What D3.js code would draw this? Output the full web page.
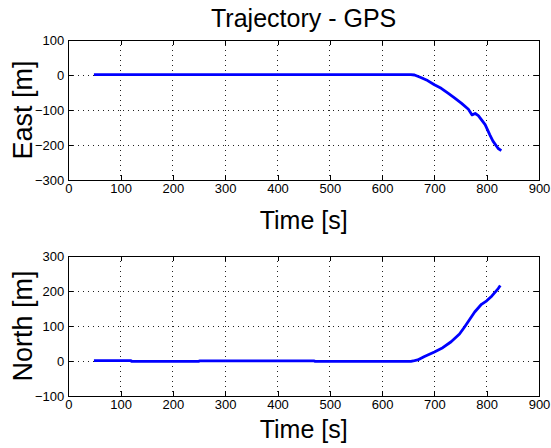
<!DOCTYPE html>
<html><head><meta charset="utf-8">
<script src="https://cdn.jsdelivr.net/npm/d3@7/dist/d3.min.js"></script>
<style>body{margin:0;background:#fff}svg{display:block}</style>
</head><body>
<svg id="c" width="551" height="448"></svg>
<script>
const title = "Trajectory - GPS";
const xTicks = [0,100,200,300,400,500,600,700,800,900];
const eastTicks = [-300,-200,-100,0,100];
const northTicks = [-100,0,100,200,300];

const eastT = [49,160,240,630,655,662,674,687,700,713,726,739,752,765,772,778,784,797,806,812,822,828];
const eastV = [1,1,1,1,1,0,-7,-16,-28,-38,-52,-66,-81,-98,-114,-110,-116,-142,-171,-189,-210,-216];

const northT = [49,120,121,250,251,470,471,655,662,668,681,700,716,732,748,758,768,777,790,800,810,822,826];
const northV = [1,1,-1,-1,0.5,0.5,-1,-1,1,3,13,26,38,55,77,98,120,140,162,172,186,207,216];

const svg = d3.select("#c");
const font = "Liberation Sans, Arial, Helvetica, sans-serif";
const L = 68.3, R = 539;

svg.append("text").attr("x", (L+R)/2).attr("y", 27).attr("text-anchor","middle")
  .attr("font-family", font).attr("font-size", 25).text(title);

function panel(top, bottom, T, V, yDom, yTicks, ylabel, xlabelY) {
  const x = d3.scaleLinear().domain([0,900]).range([L,R]);
  const y = d3.scaleLinear().domain(yDom).range([bottom, top]);
  const g = svg.append("g");
  g.append("g").selectAll("line").data(xTicks.slice(1,-1)).join("line")
    .attr("x1", d=>x(d)).attr("x2", d=>x(d)).attr("y1", top).attr("y2", bottom)
    .attr("stroke","#222").attr("stroke-width",1).attr("stroke-dasharray","1,4").attr("shape-rendering","crispEdges");
  g.append("g").selectAll("line").data(yTicks.slice(1,-1)).join("line")
    .attr("y1", d=>y(d)).attr("y2", d=>y(d)).attr("x1", L).attr("x2", R)
    .attr("stroke","#222").attr("stroke-width",1).attr("stroke-dasharray","1,4").attr("shape-rendering","crispEdges");
  const pts = T.map((t,i)=>[t, V[i]]);
  g.append("path").datum(pts)
    .attr("d", d3.line().x(d=>x(d[0])).y(d=>y(d[1])))
    .attr("fill","none").attr("stroke","#0000ff").attr("stroke-width",2.8).attr("stroke-linejoin","round");
  const ax = d3.axisBottom(x).tickValues(xTicks).tickSizeInner(-5).tickSizeOuter(0).tickPadding(4).tickFormat(d3.format("d"));
  const axt = d3.axisTop(x).tickValues(xTicks).tickSizeInner(-5).tickSizeOuter(0).tickFormat("");
  const ay = d3.axisLeft(y).tickValues(yTicks).tickSizeInner(-5).tickSizeOuter(0).tickPadding(4).tickFormat(d3.format("d"));
  const ayr = d3.axisRight(y).tickValues(yTicks).tickSizeInner(-5).tickSizeOuter(0).tickFormat("");
  const gx = g.append("g").attr("transform",`translate(0,${bottom})`).call(ax);
  const gxt = g.append("g").attr("transform",`translate(0,${top})`).call(axt);
  const gy = g.append("g").attr("transform",`translate(${L},0)`).call(ay);
  const gyr = g.append("g").attr("transform",`translate(${R},0)`).call(ayr);
  [gx,gxt,gy,gyr].forEach(a=>{
    a.selectAll("path").remove();
    a.selectAll("line").attr("stroke","#000").attr("shape-rendering","crispEdges");
    a.selectAll("text").attr("font-family", font).attr("font-size", 13).attr("fill","#000");
  });
  g.append("rect").attr("x",L).attr("y",top).attr("width",R-L).attr("height",bottom-top)
    .attr("fill","none").attr("stroke","#000").attr("stroke-width",1).attr("shape-rendering","crispEdges");
  svg.append("text").attr("x",(L+R)/2).attr("y",xlabelY).attr("text-anchor","middle")
    .attr("font-family",font).attr("font-size",25).text("Time [s]");
  svg.append("text").attr("transform",`translate(32,${(top+bottom)/2}) rotate(-90)`).attr("text-anchor","middle")
    .attr("font-family",font).attr("font-size",27).text(ylabel);
}
panel(40, 180, eastT, eastV, [-300,100], eastTicks, "East [m]", 229);
panel(256, 396, northT, northV, [-100,300], northTicks, "North [m]", 438);
</script>
</body></html>
